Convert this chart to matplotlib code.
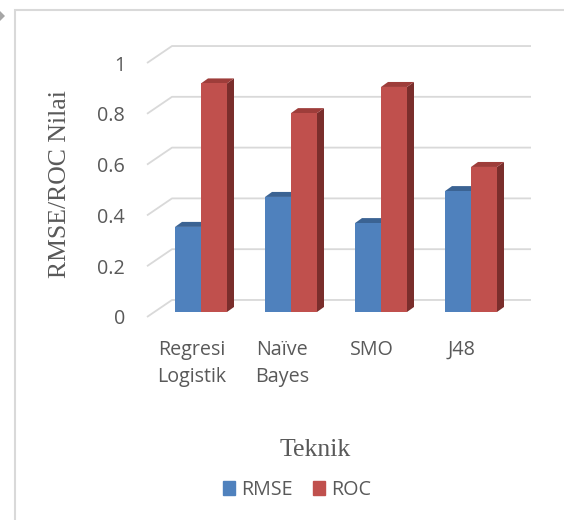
import matplotlib

matplotlib.use("Agg")
import matplotlib.pyplot as plt
from matplotlib.patches import Patch, Polygon, Rectangle


CATEGORIES = ["Regresi\nLogistik", "Naïve\nBayes", "SMO", "J48"]
SERIES = ["RMSE", "ROC"]
RMSE = [0.335, 0.453, 0.350, 0.476]
ROC = [0.900, 0.783, 0.886, 0.571]
Y_TICKS = [0, 0.2, 0.4, 0.6, 0.8, 1]
Y_TICK_LABELS = ["0", "0.2", "0.4", "0.6", "0.8", "1"]

# front / top / side shades for each series
FACE_COLORS = {
    "RMSE": ("#4F81BD", "#3B6393", "#2F5077"),
    "ROC": ("#C0504D", "#9E3D3A", "#7A2E2C"),
}
TEXT_GRAY = "#595959"
GRID_GRAY = "#D9D9D9"

plt.rcParams["font.family"] = ["Open Sans", "DejaVu Sans"]

W, H = 564, 520
fig = plt.figure(figsize=(W / 100, H / 100), dpi=100)
ax = fig.add_axes([156 / W, (H - 332.3) / H, 360 / W, 294.6 / H])
ax.set_xlim(-0.5, 3.5)
ax.set_ylim(-0.08, 1.08)
ax.axis("off")


def px(dx, dy):
    """Screen-pixel displacement (y down) expressed in data units."""
    inv = ax.transData.inverted()
    x0, y0 = ax.transData.transform((0, 0))
    return inv.transform((x0 + dx, y0 - dy))


bar_w = px(26, 0)[0]
bar_dx, bar_dy = px(7, -5)
front_dx, front_dy = px(-9, 5)
wall_dx, wall_dy = px(25, -17)
right_dx, _ = px(15, 0)
label_dy = px(0, 2.5)[1]

# back wall gridlines with the diagonal floor edge on the left
for v, label in zip(Y_TICKS, Y_TICK_LABELS):
    x_front = -0.5 + front_dx
    y_front = v + front_dy
    xs = [x_front, x_front + wall_dx, 3.5 + right_dx]
    ys = [y_front, y_front + wall_dy, y_front + wall_dy]
    ax.plot(xs, ys, color=GRID_GRAY, lw=1.3, clip_on=False, zorder=1,
            solid_capstyle="butt")
    lx = x_front - px(22, 0)[0]
    ax.text(lx, y_front + label_dy, label, ha="right", va="center",
            fontsize=14.2, color=TEXT_GRAY)


def draw_bar(x0, value, colors):
    front, top, side = colors
    x1 = x0 + bar_w
    ax.add_patch(Polygon([(x1, 0), (x1 + bar_dx, bar_dy), (x1 + bar_dx, value + bar_dy), (x1, value)],
                         closed=True, facecolor=side, edgecolor="none", zorder=3, clip_on=False))
    ax.add_patch(Polygon([(x0, value), (x1, value), (x1 + bar_dx, value + bar_dy), (x0 + bar_dx, value + bar_dy)],
                         closed=True, facecolor=top, edgecolor="none", zorder=3, clip_on=False))
    ax.bar(x0, value, width=bar_w, align="edge", color=front, zorder=3, clip_on=False)


for i, name in enumerate(CATEGORIES):
    draw_bar(i - bar_w, RMSE[i], FACE_COLORS["RMSE"])
    draw_bar(i, ROC[i], FACE_COLORS["ROC"])
    ax.text(i + front_dx, (312 - 340) / 254, name, ha="center", va="top",
            fontsize=14.2, color=TEXT_GRAY, linespacing=1.45)

fig.text(60 / W, 1 - 184 / H, "RMSE/ROC Nilai", rotation=90, ha="center", va="center",
         fontsize=18.5, family="Liberation Serif", color=TEXT_GRAY)
fig.text(315 / W, 1 - 450 / H, "Teknik", ha="center", va="center",
         fontsize=18.5, family="Liberation Serif", color=TEXT_GRAY)

handles = [Patch(color=FACE_COLORS[s][0]) for s in SERIES]
fig.legend(handles, SERIES, loc="center", bbox_to_anchor=(297 / W, 1 - 490 / H), ncol=2,
           frameon=False, handlelength=0.65, handleheight=0.65, handletextpad=0.3,
           columnspacing=1.0, fontsize=14.2, labelcolor=TEXT_GRAY)

# chart area outline and the small selection marker at the corner
fig.patches.append(Rectangle((15 / W, -0.1), 1.2, (H - 10) / H + 0.1, transform=fig.transFigure,
                             fill=False, edgecolor=GRID_GRAY, lw=1.5))
fig.patches.append(Polygon([(0, 1 - 11 / H), (5 / W, 1 - 16 / H), (0, 1 - 21 / H)], closed=True,
                           transform=fig.transFigure, facecolor="#A6A6A6", edgecolor="none"))

fig.savefig("out.png", dpi=100)
